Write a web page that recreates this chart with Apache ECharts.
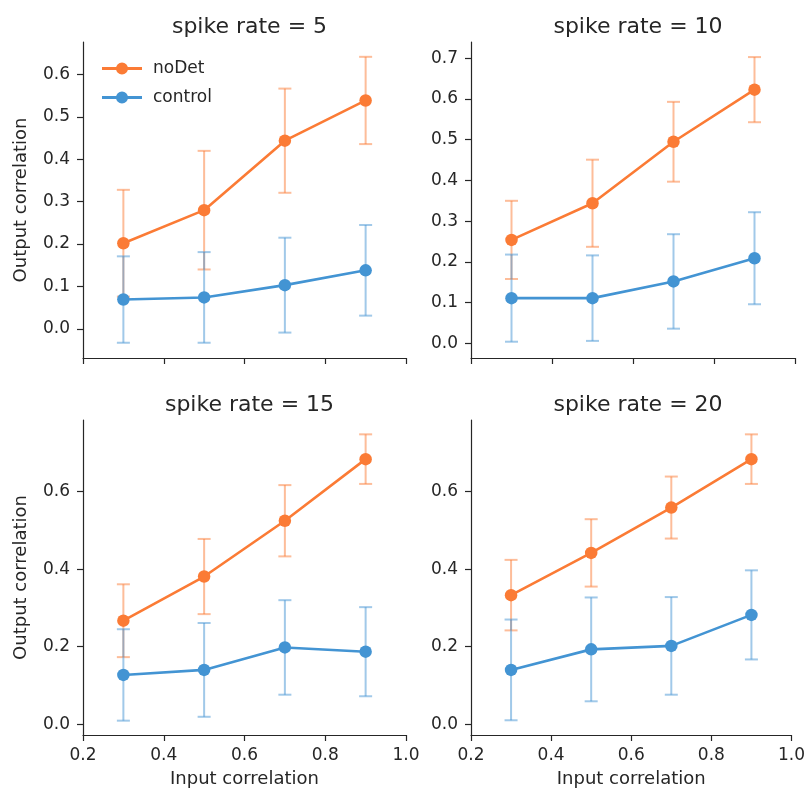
<!DOCTYPE html>
<html>
<head>
<meta charset="utf-8">
<script src="https://cdn.jsdelivr.net/npm/echarts@6/dist/echarts.min.js"></script>
<style>
  html, body { margin: 0; padding: 0; background: #fff; }
  #chart { width: 808px; height: 794px; }
</style>
</head>
<body>
<div id="chart"></div>
<script>
// Input correlation levels (shared x values)
const inputCorr = [0.3, 0.5, 0.7, 0.9];
// Spike rate for each panel
const spikeRates = [5, 10, 15, 20];

// Mean output correlation and error half-widths, one row per spike rate
const noDetMean = [
  [0.202, 0.280, 0.444, 0.539],
  [0.254, 0.344, 0.495, 0.623],
  [0.267, 0.381, 0.525, 0.684],
  [0.333, 0.442, 0.559, 0.684]
];
const noDetErr = [
  [0.126, 0.140, 0.123, 0.103],
  [0.096, 0.107, 0.098, 0.080],
  [0.094, 0.097, 0.092, 0.064],
  [0.091, 0.087, 0.080, 0.064]
];
const controlMean = [
  [0.069, 0.074, 0.103, 0.138],
  [0.111, 0.111, 0.152, 0.209],
  [0.127, 0.140, 0.198, 0.187],
  [0.140, 0.193, 0.202, 0.282]
];
const controlErr = [
  [0.102, 0.107, 0.112, 0.107],
  [0.107, 0.105, 0.116, 0.113],
  [0.118, 0.121, 0.122, 0.115],
  [0.130, 0.134, 0.126, 0.115]
];

// Tick values
const xTicks = [0.2, 0.4, 0.6, 0.8, 1.0];
const yTicksPanel = [
  [0.0, 0.1, 0.2, 0.3, 0.4, 0.5, 0.6],
  [0.0, 0.1, 0.2, 0.3, 0.4, 0.5, 0.6, 0.7],
  [0.0, 0.2, 0.4, 0.6],
  [0.0, 0.2, 0.4, 0.6]
];
// Axis limits per panel (bottom row shares its y range)
const yLimits = [
  [-0.069, 0.677],
  [-0.036, 0.740],
  [-0.028, 0.785],
  [-0.028, 0.785]
];

const seriesNames = ['noDet', 'control'];
const seriesColors = ['#fb7b35', '#4394d3'];
const errColors = ['rgba(251,123,53,0.5)', 'rgba(67,148,211,0.5)'];

const FONT = 'DejaVu Sans';
const INK = '#262626';

// Panel boxes in pixels
const panels = [
  { left: 83,  top: 42,  width: 323, height: 316 },
  { left: 471, top: 42,  width: 324, height: 316 },
  { left: 83,  top: 420, width: 323, height: 315 },
  { left: 471, top: 420, width: 324, height: 315 }
];

const chart = echarts.init(document.getElementById('chart'), null, { renderer: 'canvas' });

const grids = [], xAxes = [], yAxes = [], titles = [], lineSeries = [], barSeries = [];

function errorBarRenderer(color) {
  return function (params, api) {
    const x = api.value(0), m = api.value(1), e = api.value(2);
    const top = api.coord([x, m + e]);
    const bot = api.coord([x, m - e]);
    const hw = 6.5;
    const style = { stroke: color, lineWidth: 2, fill: null };
    return {
      type: 'group',
      children: [
        { type: 'line', shape: { x1: top[0], y1: top[1], x2: bot[0], y2: bot[1] }, style },
        { type: 'line', shape: { x1: top[0] - hw, y1: top[1], x2: top[0] + hw, y2: top[1] }, style },
        { type: 'line', shape: { x1: bot[0] - hw, y1: bot[1], x2: bot[0] + hw, y2: bot[1] }, style }
      ]
    };
  };
}

// legend icon: short line with a dot in the middle
const legendIcon = 'path://M0,5.5 L40,5.5 L40,8.5 L0,8.5 Z M20,1 A6,6 0 1 1 19.99,1 Z';

panels.forEach((p, i) => {
  const bottomRow = i >= 2;
  const leftCol = i % 2 === 0;
  grids.push({ left: p.left, top: p.top, width: p.width, height: p.height, containLabel: false });

  xAxes.push({
    type: 'value', gridIndex: i, min: 0.2, max: 1.0,
    axisLine: { show: true, onZero: false, lineStyle: { color: INK, width: 1.2 } },
    axisTick: { show: true, length: 6, lineStyle: { color: INK, width: 1.2 }, customValues: xTicks },
    axisLabel: {
      show: bottomRow, customValues: xTicks, margin: 12,
      fontFamily: FONT, fontSize: 17, color: INK,
      formatter: v => v.toFixed(1)
    },
    splitLine: { show: false },
    name: bottomRow ? 'Input correlation' : '',
    nameLocation: 'middle', nameGap: 35,
    nameTextStyle: { fontFamily: FONT, fontSize: 18, color: INK }
  });

  yAxes.push({
    type: 'value', gridIndex: i, min: yLimits[i][0], max: yLimits[i][1],
    axisLine: { show: true, onZero: false, lineStyle: { color: INK, width: 1.2 } },
    axisTick: { show: true, length: 6, lineStyle: { color: INK, width: 1.2 }, customValues: yTicksPanel[i] },
    axisLabel: {
      customValues: yTicksPanel[i], margin: 13,
      fontFamily: FONT, fontSize: 17, color: INK,
      formatter: v => v.toFixed(1)
    },
    splitLine: { show: false },
    name: leftCol ? 'Output correlation' : '',
    nameLocation: 'middle', nameGap: 53,
    nameTextStyle: { fontFamily: FONT, fontSize: 18, color: INK }
  });

  titles.push({
    text: 'spike rate = ' + spikeRates[i],
    left: p.left + p.width / 2, top: p.top - 31, textAlign: 'center',
    textStyle: { fontFamily: FONT, fontSize: 22, fontWeight: 'normal', color: INK }
  });

  const means = [noDetMean[i], controlMean[i]];
  const errs = [noDetErr[i], controlErr[i]];

  for (let s = 0; s < 2; s++) {
    lineSeries.push({
      type: 'line', name: seriesNames[s], xAxisIndex: i, yAxisIndex: i,
      data: inputCorr.map((x, k) => [x, means[s][k]]),
      symbol: 'circle', symbolSize: 12.5, showSymbol: true,
      lineStyle: { color: seriesColors[s], width: 2.6 },
      itemStyle: { color: seriesColors[s] },
      z: 3
    });
    // error bars sit underneath the lines and markers
    barSeries.push({
      type: 'custom', name: seriesNames[s], xAxisIndex: i, yAxisIndex: i,
      renderItem: errorBarRenderer(errColors[s]),
      encode: { x: 0, y: 1 },
      data: inputCorr.map((x, k) => [x, means[s][k], errs[s][k]]),
      z: 1, silent: true
    });
  }
});

chart.setOption({
  animation: false,
  backgroundColor: '#ffffff',
  title: titles,
  legend: {
    data: seriesNames.map((n, s) => ({ name: n, icon: legendIcon, itemStyle: { color: seriesColors[s] } })),
    orient: 'vertical', left: 97, top: 55,
    itemWidth: 40, itemHeight: 14, itemGap: 12,
    textStyle: { fontFamily: FONT, fontSize: 17, color: INK, padding: [0, 0, 0, 6] }
  },
  grid: grids,
  xAxis: xAxes,
  yAxis: yAxes,
  series: lineSeries.concat(barSeries)
});
</script>
</body>
</html>
